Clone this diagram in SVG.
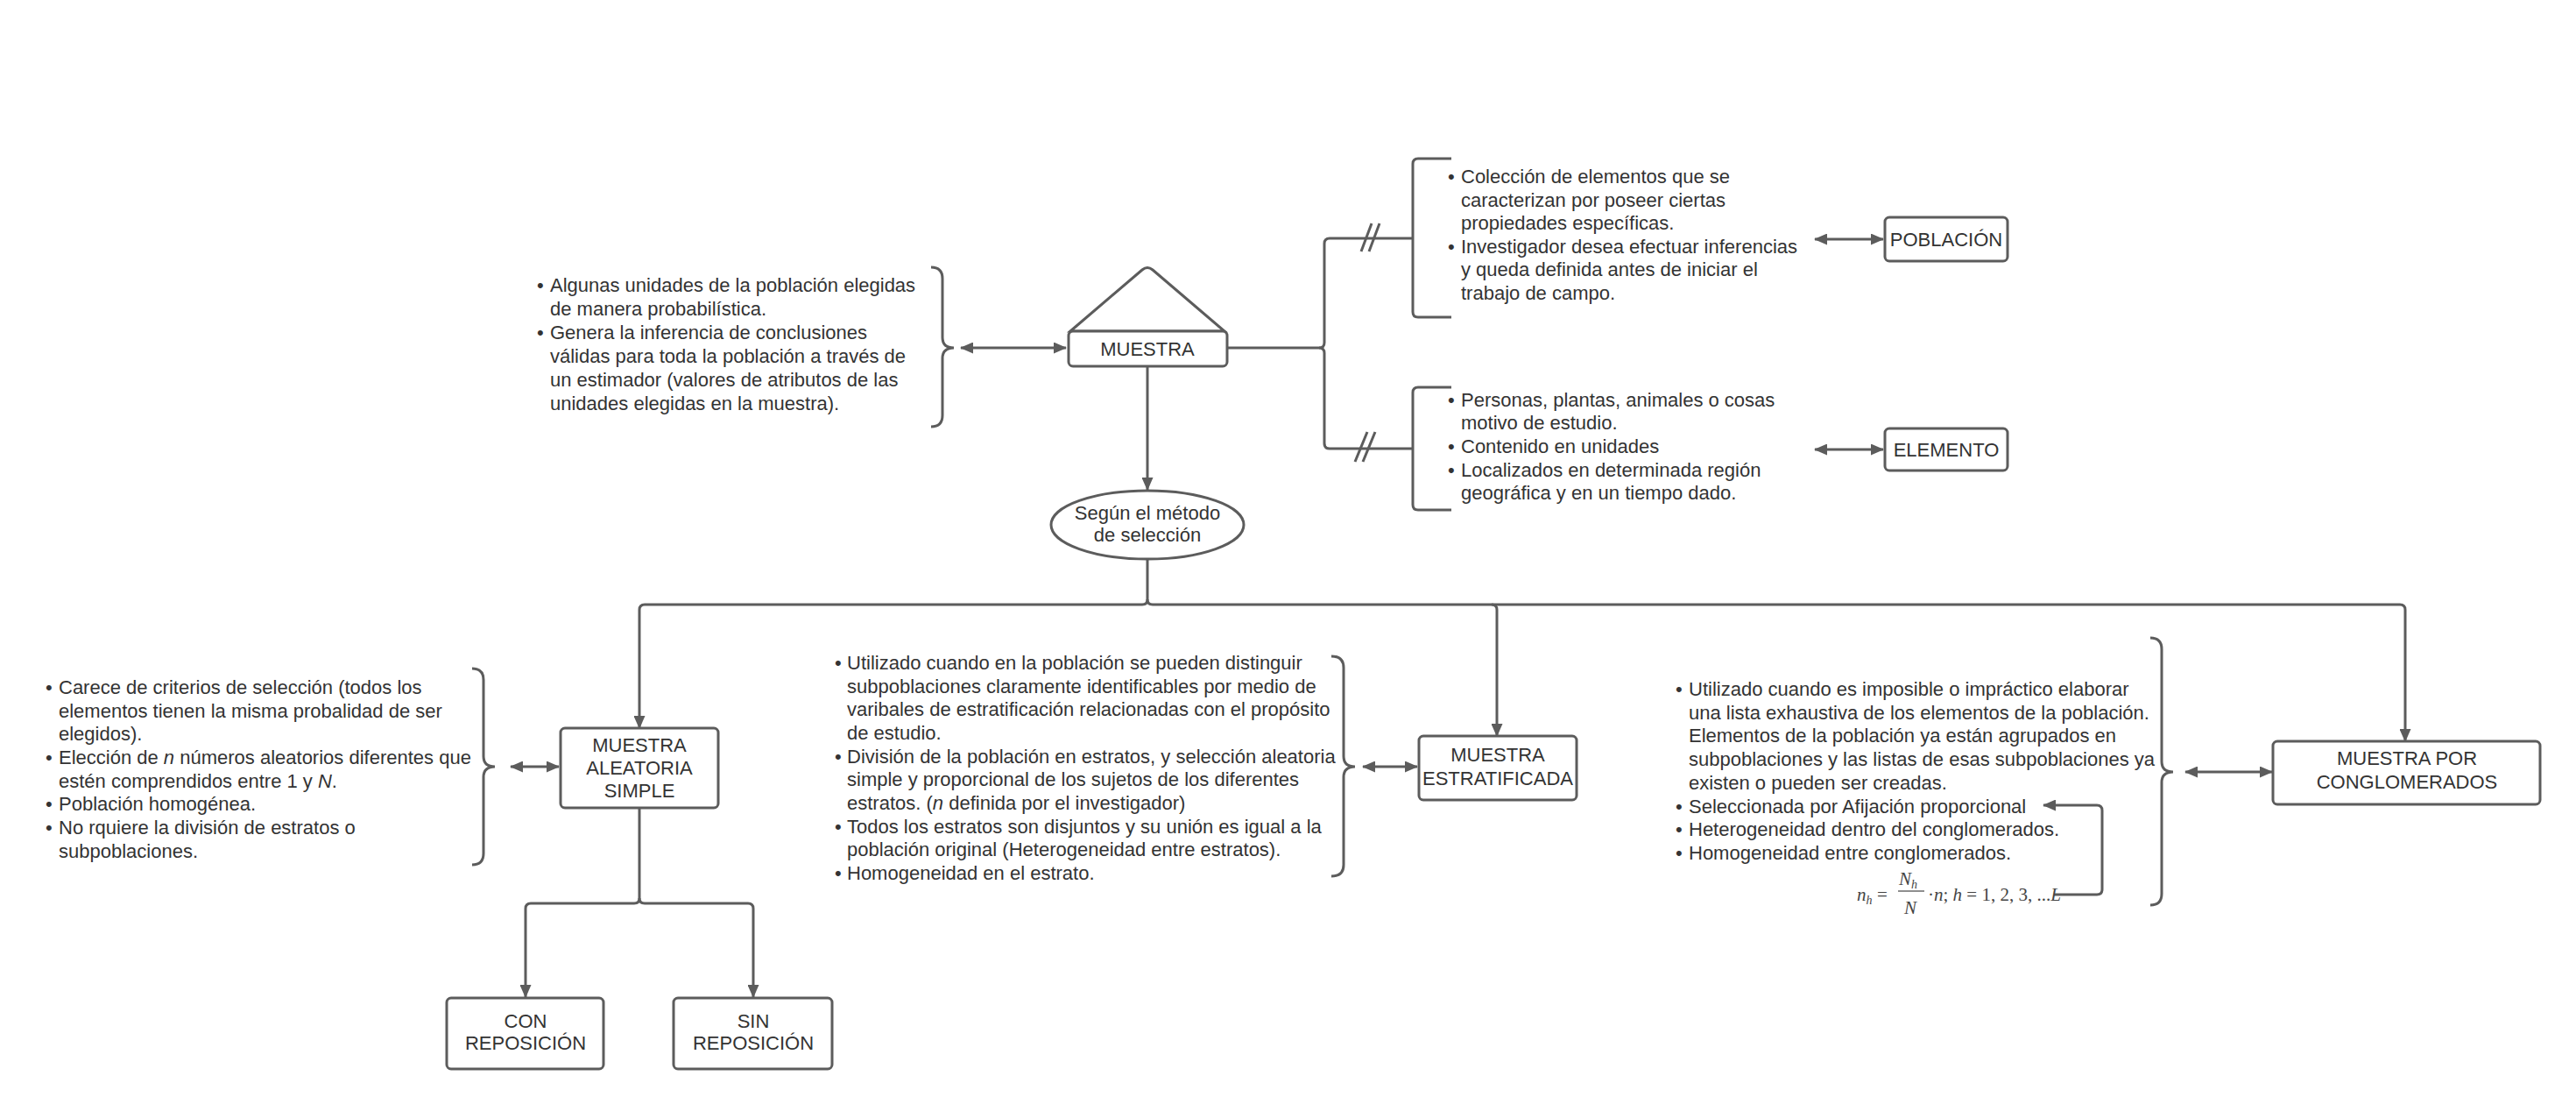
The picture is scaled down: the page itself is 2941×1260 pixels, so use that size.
<svg xmlns="http://www.w3.org/2000/svg" width="2941" height="1260" viewBox="0 0 2941 1260">
<style>
.t{font-family:"Liberation Sans",Arial,sans-serif;font-size:22px;fill:#333}
.c{text-anchor:middle}
.box{fill:#fff;stroke:#5c5c5c;stroke-width:3}
.ln{fill:none;stroke:#5c5c5c;stroke-width:3}
.ln2{fill:none;stroke:#5c5c5c;stroke-width:2}
.f{font-family:"Liberation Serif","Times New Roman",serif;font-size:21px;fill:#444}
</style>
<defs>
<marker id="ah" viewBox="0 0 15 13" refX="14" refY="6.5" markerWidth="15" markerHeight="13" markerUnits="userSpaceOnUse" orient="auto-start-reverse">
<path d="M0,0 L15,6.5 L0,13 Z" fill="#5c5c5c"/>
</marker>
</defs>
<rect width="2941" height="1260" fill="#fff"/>

<g id="connectors">
<!-- muestra right branching -->
<path class="ln" d="M1401,397 H1506 Q1512,397 1512,391 V278 Q1512,272 1518,272 H1612"/>
<path class="ln" d="M1506,397 Q1512,397 1512,403 V506 Q1512,512 1518,512 H1612"/>
<path class="ln" d="M1554,287 L1566,255 M1563,287 L1575,255"/>
<path class="ln" d="M1547,527 L1561,493 M1556,527 L1570,493"/>
<!-- muestra to ellipse -->
<path class="ln" d="M1310,418 V559" marker-end="url(#ah)"/>
<!-- ellipse to bus -->
<path class="ln" d="M1310,638 V684 Q1310,690 1304,690 H736 Q730,690 730,696 V831" marker-end="url(#ah)"/>
<path class="ln" d="M1310,684 Q1310,690 1316,690 H2740 Q2746,690 2746,696 V846" marker-end="url(#ah)"/>
<path class="ln" d="M1703,690 Q1709,690 1709,696 V840" marker-end="url(#ah)"/>
<!-- MAS to CON/SIN -->
<path class="ln" d="M730,922 V1025 Q730,1031 724,1031 H606 Q600,1031 600,1037 V1138" marker-end="url(#ah)"/>
<path class="ln" d="M730,1025 Q730,1031 736,1031 H854 Q860,1031 860,1037 V1138" marker-end="url(#ah)"/>
<!-- double arrows -->
<path class="ln" d="M1097,397 H1217" marker-start="url(#ah)" marker-end="url(#ah)"/>
<path class="ln" d="M2072,273 H2150" marker-start="url(#ah)" marker-end="url(#ah)"/>
<path class="ln" d="M2072,513 H2150" marker-start="url(#ah)" marker-end="url(#ah)"/>
<path class="ln" d="M583,875 H638" marker-start="url(#ah)" marker-end="url(#ah)"/>
<path class="ln" d="M1556,875 H1618" marker-start="url(#ah)" marker-end="url(#ah)"/>
<path class="ln" d="M2495,881 H2594" marker-start="url(#ah)" marker-end="url(#ah)"/>
<!-- formula arrow -->
<path class="ln" d="M2345,1021 H2394 Q2400,1021 2400,1015 V925 Q2400,919 2394,919 H2333" marker-end="url(#ah)"/>
</g>

<g id="brackets">
<path class="ln" d="M1063,305 Q1076,305 1076,318 V385 Q1076,397 1089,397 Q1076,397 1076,409 V474 Q1076,487 1063,487"/>
<path class="ln" d="M1657,181 H1619 Q1613,181 1613,187 V356 Q1613,362 1619,362 H1657"/>
<path class="ln" d="M1657,442 H1619 Q1613,442 1613,448 V576 Q1613,582 1619,582 H1657"/>
<path class="ln" d="M539,763 Q552,763 552,776 V863 Q552,875 565,875 Q552,875 552,887 V974 Q552,987 539,987"/>
<path class="ln" d="M1520,749 Q1534,749 1534,762 V863 Q1534,875 1547,875 Q1534,875 1534,887 V987 Q1534,1000 1520,1000"/>
<path class="ln" d="M2455,728 Q2468,728 2468,741 V869 Q2468,881 2481,881 Q2468,881 2468,893 V1020 Q2468,1033 2455,1033"/>
</g>

<g id="node-muestra">
<path class="box" d="M1222,378 L1304,308 Q1310,303 1316,308 L1398,378 Z"/>
<rect class="box" x="1220" y="378" width="181" height="40" rx="5"/>
<text class="t c" x="1310" y="406">MUESTRA</text>
</g>

<g id="node-poblacion">
<rect class="box" x="2152" y="248" width="140" height="50" rx="5"/>
<text class="t c" x="2222" y="281">POBLACIÓN</text>
</g>

<g id="node-elemento">
<rect class="box" x="2152" y="489" width="140" height="48" rx="5"/>
<text class="t c" x="2222" y="521">ELEMENTO</text>
</g>

<g id="node-metodo">
<ellipse class="box" cx="1310" cy="599" rx="110" ry="39"/>
<text class="t c" x="1310" y="593">Según el método</text>
<text class="t c" x="1310" y="618">de selección</text>
</g>

<g id="node-mas">
<rect class="box" x="640" y="831" width="180" height="91" rx="5"/>
<text class="t c" x="730" y="858">MUESTRA</text>
<text class="t c" x="730" y="884">ALEATORIA</text>
<text class="t c" x="730" y="910">SIMPLE</text>
</g>

<g id="node-con">
<rect class="box" x="510" y="1139" width="179" height="81" rx="5"/>
<text class="t c" x="600" y="1173">CON</text>
<text class="t c" x="600" y="1198">REPOSICIÓN</text>
</g>

<g id="node-sin">
<rect class="box" x="769" y="1139" width="181" height="81" rx="5"/>
<text class="t c" x="860" y="1173">SIN</text>
<text class="t c" x="860" y="1198">REPOSICIÓN</text>
</g>

<g id="node-estratificada">
<rect class="box" x="1620" y="840" width="180" height="73" rx="5"/>
<text class="t c" x="1710" y="869">MUESTRA</text>
<text class="t c" x="1710" y="896">ESTRATIFICADA</text>
</g>

<g id="node-conglomerados">
<rect class="box" x="2595" y="846" width="305" height="72" rx="5"/>
<text class="t c" x="2748" y="873">MUESTRA POR</text>
<text class="t c" x="2748" y="900">CONGLOMERADOS</text>
</g>

<g id="text-muestra">
<text class="t"><tspan x="613" y="333">•</tspan><tspan x="613" y="387">•</tspan></text>
<text class="t">
<tspan x="628" y="333">Algunas unidades de la población elegidas</tspan>
<tspan x="628" y="360">de manera probabilística.</tspan>
<tspan x="628" y="387">Genera la inferencia de conclusiones</tspan>
<tspan x="628" y="414">válidas para toda la población a través de</tspan>
<tspan x="628" y="441">un estimador (valores de atributos de las</tspan>
<tspan x="628" y="468">unidades elegidas en la muestra).</tspan>
</text>
</g>

<g id="text-poblacion">
<text class="t"><tspan x="1653" y="209">•</tspan><tspan x="1653" y="289">•</tspan></text>
<text class="t">
<tspan x="1668" y="209">Colección de elementos que se</tspan>
<tspan x="1668" y="236">caracterizan por poseer ciertas</tspan>
<tspan x="1668" y="262">propiedades específicas.</tspan>
<tspan x="1668" y="289">Investigador desea efectuar inferencias</tspan>
<tspan x="1668" y="315">y queda definida antes de iniciar el</tspan>
<tspan x="1668" y="342">trabajo de campo.</tspan>
</text>
</g>

<g id="text-elemento">
<text class="t"><tspan x="1653" y="464">•</tspan><tspan x="1653" y="517">•</tspan><tspan x="1653" y="544">•</tspan></text>
<text class="t">
<tspan x="1668" y="464">Personas, plantas, animales o cosas</tspan>
<tspan x="1668" y="490">motivo de estudio.</tspan>
<tspan x="1668" y="517">Contenido en unidades</tspan>
<tspan x="1668" y="544">Localizados en determinada región</tspan>
<tspan x="1668" y="570">geográfica y en un tiempo dado.</tspan>
</text>
</g>

<g id="text-mas">
<text class="t"><tspan x="52" y="792">•</tspan><tspan x="52" y="872">•</tspan><tspan x="52" y="925">•</tspan><tspan x="52" y="952">•</tspan></text>
<text class="t">
<tspan x="67" y="792">Carece de criterios de selección (todos los</tspan>
<tspan x="67" y="819">elementos tienen la misma probalidad de ser</tspan>
<tspan x="67" y="845">elegidos).</tspan>
<tspan x="67" y="872">Elección de <tspan font-style="italic">n</tspan> números aleatorios diferentes que</tspan>
<tspan x="67" y="899">estén comprendidos entre 1 y <tspan font-style="italic">N</tspan>.</tspan>
<tspan x="67" y="925">Población homogénea.</tspan>
<tspan x="67" y="952">No rquiere la división de estratos o</tspan>
<tspan x="67" y="979">subpoblaciones.</tspan>
</text>
</g>

<g id="text-estratificada">
<text class="t"><tspan x="953" y="764">•</tspan><tspan x="953" y="871">•</tspan><tspan x="953" y="951">•</tspan><tspan x="953" y="1004">•</tspan></text>
<text class="t">
<tspan x="967" y="764">Utilizado cuando en la población se pueden distinguir</tspan>
<tspan x="967" y="791">subpoblaciones claramente identificables por medio de</tspan>
<tspan x="967" y="817">varibales de estratificación relacionadas con el propósito</tspan>
<tspan x="967" y="844">de estudio.</tspan>
<tspan x="967" y="871">División de la población en estratos, y selección aleatoria</tspan>
<tspan x="967" y="897">simple y proporcional de los sujetos de los diferentes</tspan>
<tspan x="967" y="924">estratos. (<tspan font-style="italic">n</tspan> definida por el investigador)</tspan>
<tspan x="967" y="951">Todos los estratos son disjuntos y su unión es igual a la</tspan>
<tspan x="967" y="977">población original (Heterogeneidad entre estratos).</tspan>
<tspan x="967" y="1004">Homogeneidad en el estrato.</tspan>
</text>
</g>

<g id="text-conglomerados">
<text class="t"><tspan x="1913" y="794">•</tspan><tspan x="1913" y="928">•</tspan><tspan x="1913" y="954">•</tspan><tspan x="1913" y="981">•</tspan></text>
<text class="t">
<tspan x="1928" y="794">Utilizado cuando es imposible o impráctico elaborar</tspan>
<tspan x="1928" y="821">una lista exhaustiva de los elementos de la población.</tspan>
<tspan x="1928" y="847">Elementos de la población ya están agrupados en</tspan>
<tspan x="1928" y="874">subpoblaciones y las listas de esas subpoblaciones ya</tspan>
<tspan x="1928" y="901">existen o pueden ser creadas.</tspan>
<tspan x="1928" y="928">Seleccionada por Afijación proporcional</tspan>
<tspan x="1928" y="954">Heterogeneidad dentro del conglomerados.</tspan>
<tspan x="1928" y="981">Homogeneidad entre conglomerados.</tspan>
</text>
</g>

<g id="formula">
<text class="f" x="2120" y="1028" font-style="italic">n<tspan font-size="14" dy="4">h</tspan></text>
<text class="f" x="2143" y="1028">=</text>
<text class="f" x="2168" y="1010" font-style="italic">N<tspan font-size="14" dy="4">h</tspan></text>
<line x1="2167" y1="1017" x2="2197" y2="1017" stroke="#444" stroke-width="1.2"/>
<text class="f" x="2174" y="1043" font-style="italic">N</text>
<text class="f" x="2201" y="1028">·</text>
<text class="f" x="2208" y="1028"><tspan font-style="italic">n</tspan>; <tspan font-style="italic">h</tspan> = 1, 2, 3, ...<tspan font-style="italic">L</tspan></text>
</g>
</svg>
